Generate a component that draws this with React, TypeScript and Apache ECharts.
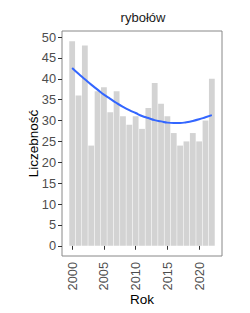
import React, { useEffect, useRef } from "react";
import * as echarts from "echarts";

const years = [2000, 2001, 2002, 2003, 2004, 2005, 2006, 2007, 2008, 2009, 2010, 2011, 2012, 2013, 2014, 2015, 2016, 2017, 2018, 2019, 2020, 2021, 2022];
const counts = [49, 36, 48, 24, 37, 38, 32, 37, 31, 29, 31, 28, 33, 39, 34, 31, 27, 24, 25, 27, 25, 30, 40];
const trend = [42.6, 41.2, 39.9, 38.6, 37.4, 36.2, 35.2, 34.2, 33.3, 32.5, 31.8, 31.1, 30.6, 30.1, 29.8, 29.5, 29.4, 29.4, 29.6, 29.9, 30.3, 30.8, 31.3];
const yTicks = [0, 5, 10, 15, 20, 25, 30, 35, 40, 45, 50];
const xTicks = [2000, 2005, 2010, 2015, 2020];

export default function App() {
  const ref = useRef<HTMLDivElement>(null);
  useEffect(() => {
    if (!ref.current) return;
    const chart = echarts.init(ref.current, undefined, { renderer: "svg" });
    const font = "Liberation Sans, Arial, sans-serif";
    chart.setOption({
      animation: false,
      backgroundColor: "#ffffff",
      title: {
        text: "rybołów",
        left: 143,
        textAlign: "center",
        top: 11,
        padding: 0,
        textStyle: { fontSize: 13, fontWeight: "normal", color: "#1a1a1a", fontFamily: font },
      },
      grid: {
        left: 62, top: 31, right: 28, bottom: 57,
        outerBoundsMode: "none", containLabel: false,
        show: true, borderColor: "#888888", borderWidth: 1, backgroundColor: "transparent",
      },
      xAxis: {
        type: "value",
        min: 1998.4,
        max: 2023.6,
        name: "Rok",
        nameLocation: "middle",
        nameGap: 36,
        nameMoveOverlap: false,
        nameTextStyle: { fontSize: 13.5, color: "#000", fontFamily: font },
        axisLine: { show: false },
        splitLine: { show: false },
        axisTick: { show: true, length: 4, lineStyle: { color: "#333" }, customValues: xTicks },
        axisLabel: { customValues: xTicks, rotate: 90, fontSize: 12.8, color: "#4d4d4d", fontFamily: font, margin: 6, padding: [7, 0, 0, 0], formatter: (v: number) => String(v) },
      },
      yAxis: {
        type: "value",
        min: -2.45,
        max: 51.45,
        name: "Liczebność",
        nameLocation: "middle",
        nameGap: 22,
        nameMoveOverlap: false,
        nameRotate: 90,
        nameTextStyle: { fontSize: 13.5, color: "#000", fontFamily: font },
        axisLine: { show: false },
        splitLine: { show: false },
        axisTick: { show: true, length: 4, lineStyle: { color: "#333" }, customValues: yTicks },
        axisLabel: { customValues: yTicks, fontSize: 12.8, color: "#4d4d4d", fontFamily: font, margin: 6, formatter: (v: number) => String(v) },
      },
      series: [
        {
          type: "bar",
          data: years.map((y, i) => [y, counts[i]]),
          barWidth: 5.8,
          itemStyle: { color: "#d3d3d3" },
          silent: true,
        },
        {
          type: "line",
          data: years.map((y, i) => [y, trend[i]]),
          smooth: true,
          showSymbol: false,
          lineStyle: { color: "#3366ff", width: 2 },
          silent: true,
        },
      ],
    });
    return () => chart.dispose();
  }, []);
  return <div ref={ref} style={{ width: 250, height: 313, position: "absolute", left: 0, top: 0 }} />;
}
